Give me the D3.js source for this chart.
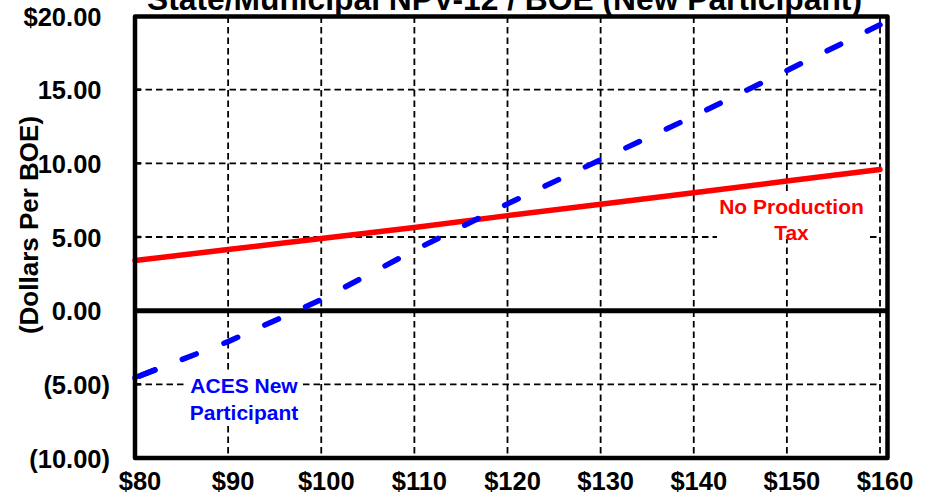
<!DOCTYPE html>
<html>
<head>
<meta charset="utf-8">
<script src="https://cdn.jsdelivr.net/npm/d3@7"></script>
<style>
  html, body { margin: 0; padding: 0; background: #fff; }
  svg { display: block; font-family: "Liberation Sans", Arial, sans-serif; font-weight: bold; }
</style>
</head>
<body>
<svg id="chart" width="928" height="492"></svg>
<script>
// ---- data ----
const title = "State/Municipal NPV-12 / BOE (New Participant)";
const yAxisTitle = "(Dollars Per BOE)";
const prices = [80, 90, 100, 110, 120, 130, 140, 150, 160];
const noProductionTax = [3.4, 4.15, 4.9, 5.65, 6.45, 7.22, 8.0, 8.8, 9.58];
const acesNewParticipant = [-4.55, -2.1, 0.75, 4.1, 7.25, 10.25, 13.2, 16.3, 19.4];
const xTicks = [80, 90, 100, 110, 120, 130, 140, 150, 160];
const xTickLabels = ["$80", "$90", "$100", "$110", "$120", "$130", "$140", "$150", "$160"];
const yTicks = [20, 15, 10, 5, 0, -5, -10];
const yTickLabels = ["$20.00", "15.00", "10.00", "5.00", "0.00", "(5.00)", "(10.00)"];
const seriesNames = ["No Production", "Tax"];
const seriesNames2 = ["ACES New", "Participant"];

// ---- layout ----
(function () {
const svg = d3.select("#chart");
const L = 135, R = 880, frameR = 887.5, T = 16.5, B = 458;
const x = d3.scaleLinear().domain([80, 160]).range([L, R]);
const y = d3.scaleLinear().domain([-10, 20]).range([B, 16]);

// gridlines
const grid = svg.append("g").attr("stroke", "#000").attr("stroke-width", 1.8).attr("stroke-dasharray", "6.5,4");
grid.selectAll("line.v").data(xTicks.slice(1)).join("line").attr("class", "v")
  .attr("x1", d => x(d)).attr("x2", d => x(d)).attr("y1", T).attr("y2", B);
grid.selectAll("line.h").data(yTicks.filter(d => d !== 0 && d !== 20 && d !== -10)).join("line").attr("class", "h")
  .attr("x1", L).attr("x2", R).attr("y1", d => y(d)).attr("y2", d => y(d));

// white label boxes (hide gridlines behind annotations)
svg.append("rect").attr("x", 717).attr("y", 192).attr("width", 149).attr("height", 47).attr("fill", "#fff");
svg.append("rect").attr("x", 187).attr("y", 372).attr("width", 113).attr("height", 53).attr("fill", "#fff");

// left inward ticks
svg.append("g").selectAll("line").data(yTicks.filter(d => d !== 20 && d !== -10)).join("line")
  .attr("x1", L).attr("x2", L + 6).attr("y1", d => y(d)).attr("y2", d => y(d))
  .attr("stroke", "#000").attr("stroke-width", 2.5);

// zero line
svg.append("line").attr("x1", L).attr("x2", frameR).attr("y1", y(0)).attr("y2", y(0))
  .attr("stroke", "#000").attr("stroke-width", 5);

// series lines
const line = d3.line().x((d, i) => x(prices[i])).y(d => y(d));
svg.append("path").datum(noProductionTax).attr("d", line)
  .attr("fill", "none").attr("stroke", "#ff0000").attr("stroke-width", 5.5).attr("stroke-linecap", "round");
svg.append("path").datum(acesNewParticipant).attr("d", line)
  .attr("fill", "none").attr("stroke", "#0000ff").attr("stroke-width", 5.5)
  .attr("stroke-linecap", "round").attr("stroke-dasharray", "15,29.7").attr("stroke-dashoffset", -6);
// leading dash piece at the left edge
svg.append("path").datum(acesNewParticipant).attr("d", line)
  .attr("fill", "none").attr("stroke", "#0000ff").attr("stroke-width", 5.5)
  .attr("stroke-linecap", "round").attr("stroke-dasharray", "0,4.5,17,1000");

// frame
svg.append("rect").attr("x", L).attr("y", T).attr("width", frameR - L).attr("height", B - T)
  .attr("fill", "none").attr("stroke", "#000").attr("stroke-width", 4.5).attr("stroke-linejoin", "round");

// y axis labels
const yAxis = d3.axisLeft(y).tickValues(yTicks).tickSize(0)
  .tickFormat((d, i) => yTickLabels[i]);
const gy = svg.append("g").attr("transform", `translate(${L},0)`).call(yAxis);
gy.select(".domain").remove();
gy.selectAll("text").attr("x", -25).attr("dy", "0.36em")
  .attr("dx", (d, i) => yTickLabels[i].startsWith("(") ? 0 : -8.5)
  .attr("font-size", 25.5).attr("font-weight", "bold").attr("fill", "#000")
  .attr("font-family", "Liberation Sans, Arial, sans-serif").attr("text-anchor", "end");

// x axis labels
const xAxis = d3.axisBottom(x).tickValues(xTicks).tickSize(0)
  .tickFormat((d, i) => xTickLabels[i]);
const gx = svg.append("g").attr("transform", `translate(0,${B})`).call(xAxis);
gx.select(".domain").remove();
gx.selectAll("text").attr("y", 31.5).attr("dy", 0).attr("dx", 4.5)
  .attr("font-size", 25.5).attr("font-weight", "bold").attr("fill", "#000")
  .attr("font-family", "Liberation Sans, Arial, sans-serif");

// y axis title
svg.append("text").attr("transform", "translate(38,225) rotate(-90)")
  .attr("text-anchor", "middle").attr("font-size", 26).attr("fill", "#000").text(yAxisTitle);

// chart title (partially clipped at top)
svg.append("text").attr("x", 504.5).attr("y", 10).attr("text-anchor", "middle")
  .attr("font-size", 31).attr("fill", "#000")
  .attr("textLength", 715).attr("lengthAdjust", "spacingAndGlyphs").text(title);

// annotations
const a1 = svg.append("text").attr("text-anchor", "middle").attr("font-size", 21).attr("fill", "#ff0000");
a1.selectAll("tspan").data(seriesNames).join("tspan")
  .attr("x", 791.5).attr("y", (d, i) => 214 + i * 25.5).text(d => d);
const a2 = svg.append("text").attr("text-anchor", "middle").attr("font-size", 21).attr("fill", "#0000ff");
a2.selectAll("tspan").data(seriesNames2).join("tspan")
  .attr("x", 244).attr("y", (d, i) => 393 + i * 26.5).text(d => d);
})();
</script>
</body>
</html>
